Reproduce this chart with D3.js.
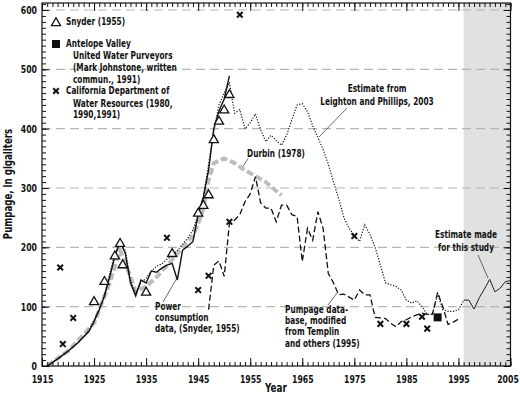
<!DOCTYPE html>
<html>
<head>
<meta charset="utf-8">
<script src="https://cdn.jsdelivr.net/npm/d3@7/dist/d3.min.js"></script>
<style>
  html, body { margin: 0; padding: 0; background: #fff; }
  svg { display: block; }
  text { font-family: "DejaVu Sans Condensed", "Liberation Sans Narrow", sans-serif; font-weight: bold; fill: #111; }
</style>
</head>
<body>
<svg id="chart" width="520" height="396"></svg>
<script>
// ---------- data (year, gigaliters) ----------
const snyderTriangles = [[1925,108],[1927,142],[1929,185],[1930,206],[1930.5,170],[1935,124],[1940,189],
  [1945,257],[1946,270],[1947,288],[1948,381],[1949,412],[1950,431],[1951,457]];
const dwrCrosses = [[1918.5,166],[1919,37],[1921,81],[1939,216],[1945,128],[1947,152],[1951,243],[1953,592],
  [1975,219],[1980,71],[1985,71],[1988,83],[1989,63]];
const avSquares = [[1991,82]];
const powerConsumption = [[1916,0],[1918,12],[1920,25],[1922,40],[1924,58],[1925,75],[1926,95],[1927,118],
  [1928,150],[1929,185],[1930,210],[1931,190],[1932,140],[1933,118],[1934,145],[1935,140],[1936,160],[1937,158],
  [1938,165],[1939,170],[1940,173],[1941,145],[1942,195],[1943,202],[1944,210],[1945,255],[1946,285],[1947,330],
  [1948,400],[1949,430],[1950,450],[1951,489]];
const leightonPhillips = [[1916,0],[1918,12],[1920,25],[1922,40],[1924,60],[1926,95],[1927,120],[1928,155],
  [1929,190],[1930,205],[1931,195],[1932,145],[1933,122],[1934,140],[1935,148],[1936,160],[1937,168],[1938,172],
  [1939,180],[1940,186],[1941,195],[1942,205],[1943,215],[1944,230],[1945,255],[1946,285],[1947,340],[1948,395],
  [1949,440],[1950,460],[1951,478],[1952,426],[1953,432],[1954,400],[1955,410],[1956,425],[1957,398],[1958,378],
  [1959,389],[1960,380],[1961,372],[1962,389],[1963,415],[1964,440],[1965,442],[1966,429],[1967,405],[1968,385],
  [1969,365],[1970,340],[1971,310],[1972,282],[1973,250],[1974,232],[1975,220],[1976,210],[1977,238],[1978,222],
  [1979,200],[1980,170],[1981,140],[1982,137],[1983,134],[1984,128],[1985,111],[1986,106],[1987,110],[1988,100],
  [1989,87],[1990,87],[1991,122],[1992,95],[1993,92],[1994,92],[1995,95],[1996,110]];
const pumpageDatabase = [[1947,95],[1948,170],[1949,177],[1950,151],[1951,240],[1952,246],[1953,255],[1954,277],
  [1955,290],[1956,319],[1957,275],[1958,266],[1959,266],[1960,243],[1961,271],[1962,271],[1963,255],[1964,252],
  [1965,176],[1966,232],[1967,212],[1968,260],[1969,232],[1970,156],[1971,140],[1972,120],[1973,121],[1974,116],
  [1975,111],[1976,128],[1977,120],[1978,120],[1979,82],[1980,81],[1981,80],[1982,72],[1983,66],[1984,75],
  [1985,78],[1986,83],[1987,86],[1988,89],[1989,87],[1990,87],[1991,124],[1992,100],[1993,70],[1994,74],[1995,79]];
const durbin = [[1916,0],[1920,25],[1925,72],[1928,140],[1930,195],[1932,150],[1933,125],[1935,134],[1937,150],
  [1940,179],[1942,200],[1944,220],[1945,240],[1946,265],[1947,313],[1948,342],[1950,350],[1952,342],[1954,330],
  [1956,320],[1958,310],[1960,295],[1961,288]];
const thisStudy = [[1996,111],[1997,111],[1998,96],[1999,115],[2000,130],[2001,146],[2002,125],[2003,131],
  [2004,142],[2005,144]];
const shadedPeriod = [1996, 2005];
const xLabels = [1915,1925,1935,1945,1955,1965,1975,1985,1995,2005];
const yLabels = [0,100,200,300,400,500,600];

// ---------- layout ----------
const svg = d3.select("#chart");
const L = 42, R = 510.5, T = 3, B = 366;
const SX = 0.82; // horizontal condensing of the text
const x = d3.scaleLinear().domain([1915, 2005]).range([L, R]);
const y = d3.scaleLinear().domain([0, 600]).range([B, 10]);
const yTop = y.invert(T);

// shaded region
svg.append("rect")
  .attr("x", x(shadedPeriod[0])).attr("y", T)
  .attr("width", x(shadedPeriod[1]) - x(shadedPeriod[0])).attr("height", B - T)
  .attr("fill", "#e1e1e1");

// gridlines
svg.append("g").selectAll("line").data(yLabels.slice(1)).join("line")
  .attr("x1", L).attr("x2", R).attr("y1", d => y(d)).attr("y2", d => y(d))
  .attr("stroke", "#b5b5b5").attr("stroke-width", 1.1).attr("stroke-dasharray", "9,5");

const line = d3.line().x(d => x(d[0])).y(d => y(d[1]));

// Durbin (gray thick dashed)
svg.append("path").datum(durbin).attr("d", line)
  .attr("fill", "none").attr("stroke", "#bdbdbd").attr("stroke-width", 4)
  .attr("stroke-dasharray", "7,3");

// Leighton & Phillips (dotted)
svg.append("path").datum(leightonPhillips).attr("d", line)
  .attr("fill", "none").attr("stroke", "#111").attr("stroke-width", 1.2)
  .attr("stroke-dasharray", "1.2,1.6");

// Pumpage database (dashed)
svg.append("path").datum(pumpageDatabase).attr("d", line)
  .attr("fill", "none").attr("stroke", "#111").attr("stroke-width", 1.3)
  .attr("stroke-dasharray", "6,3");

// Power consumption (solid)
svg.append("path").datum(powerConsumption).attr("d", line)
  .attr("fill", "none").attr("stroke", "#111").attr("stroke-width", 1.4);

// Estimate made for this study
svg.append("path").datum(thisStudy).attr("d", line)
  .attr("fill", "none").attr("stroke", "#222").attr("stroke-width", 1);

// markers
const tri = d3.symbol().type(d3.symbolTriangle).size(36);
svg.append("g").selectAll("path").data(snyderTriangles).join("path")
  .attr("d", tri).attr("transform", d => `translate(${x(d[0])},${y(d[1])})`)
  .attr("fill", "#fff").attr("stroke", "#111").attr("stroke-width", 1.3);

const cross = "M-2.8,-2.8L2.8,2.8M-2.8,2.8L2.8,-2.8";
svg.append("g").selectAll("path").data(dwrCrosses).join("path")
  .attr("d", cross).attr("transform", d => `translate(${x(d[0])},${y(d[1])})`)
  .attr("stroke", "#111").attr("stroke-width", 2).attr("fill", "none");

svg.append("g").selectAll("rect").data(avSquares).join("rect")
  .attr("x", d => x(d[0]) - 4).attr("y", d => y(d[1]) - 4).attr("width", 8).attr("height", 8)
  .attr("fill", "#111");

// ---------- axes ----------
function styleAxis(g) {
  g.select(".domain").remove();
  g.selectAll("line").attr("stroke", "#111").attr("stroke-width", 1);
  g.selectAll("text").attr("font-size", "10.5px").attr("fill", "#111")
    .style("font-family", '"DejaVu Sans Condensed","Liberation Sans Narrow",sans-serif')
    .style("font-weight", "bold")
    .each(function (d) {
      const t = d3.select(this);
      let tx = +t.attr("x") || 0;
      const ty = +t.attr("y") || 0;
      if (d === 2005) tx -= 3;   // keep the last label inside the picture
      t.attr("x", 0).attr("y", 0).attr("transform", `translate(${tx},${ty}) scale(${SX},1)`);
    });
}
const years = d3.range(1915, 2006);
const minorY = d3.range(0, yTop, 10);
// bottom
svg.append("g").attr("transform", `translate(0,${B})`)
  .call(d3.axisBottom(x).tickValues(years).tickSize(-4).tickFormat("")).call(styleAxis);
svg.append("g").attr("transform", `translate(0,${B})`)
  .call(d3.axisBottom(x).tickValues(xLabels).tickSize(-8).tickPadding(10).tickFormat(d3.format("d"))).call(styleAxis);
// top
svg.append("g").attr("transform", `translate(0,${T})`)
  .call(d3.axisTop(x).tickValues(years).tickSize(-4).tickFormat("")).call(styleAxis);
svg.append("g").attr("transform", `translate(0,${T})`)
  .call(d3.axisTop(x).tickValues(xLabels).tickSize(-8).tickFormat("")).call(styleAxis);
// left
svg.append("g").attr("transform", `translate(${L},0)`)
  .call(d3.axisLeft(y).tickValues(minorY).tickSize(-4).tickFormat("")).call(styleAxis);
svg.append("g").attr("transform", `translate(${L},0)`)
  .call(d3.axisLeft(y).tickValues(yLabels).tickSize(-7).tickPadding(5).tickFormat(d3.format("d"))).call(styleAxis);
// right
svg.append("g").attr("transform", `translate(${R},0)`)
  .call(d3.axisRight(y).tickValues(minorY).tickSize(-4).tickFormat("")).call(styleAxis);
svg.append("g").attr("transform", `translate(${R},0)`)
  .call(d3.axisRight(y).tickValues(yLabels).tickSize(-7).tickFormat("")).call(styleAxis);

// frame
svg.append("rect").attr("x", L).attr("y", T).attr("width", R - L).attr("height", B - T)
  .attr("fill", "none").attr("stroke", "#111").attr("stroke-width", 1.2);

// text helper (condensed)
function label(g, t, xx, yy, anchor, size) {
  return g.append("text").attr("transform", `translate(${xx},${yy}) scale(${SX},1)`)
    .attr("text-anchor", anchor).attr("dominant-baseline", "central")
    .attr("font-size", size + "px").text(t);
}

// axis titles
svg.append("text").attr("transform", `translate(8,184) rotate(-90) scale(0.8,1)`)
  .attr("text-anchor", "middle").attr("dominant-baseline", "central")
  .attr("font-size", "12px").text("Pumpage, in gigaliters");
label(svg, "Year", 276, 388, "middle", 12);

// ---------- legend ----------
const lg = svg.append("g");
lg.append("path").attr("d", tri).attr("transform", "translate(56,23)")
  .attr("fill", "#fff").attr("stroke", "#111").attr("stroke-width", 1.3);
lg.append("rect").attr("x", 52).attr("y", 40).attr("width", 8).attr("height", 8).attr("fill", "#111");
lg.append("path").attr("d", cross).attr("transform", "translate(56,91)")
  .attr("stroke", "#111").attr("stroke-width", 2);
const legendText = [
  ["Snyder (1955)", 66, 22],
  ["Antelope Valley", 66, 44],
  ["United Water Purveyors", 73, 56],
  ["(Mark Johnstone, written", 73, 68],
  ["commun., 1991)", 73, 79.5],
  ["California Department of", 66, 91],
  ["Water Resources (1980,", 73, 103.5],
  ["1990,1991)", 73, 115]
];
legendText.forEach(d => label(lg, d[0], d[1], d[2], "start", 10));

// ---------- annotations ----------
const ann = svg.append("g");
function block(lines, xx, yy, anchor, lh) {
  lines.forEach((t, i) => label(ann, t, xx, yy + i * lh, anchor, 10));
}
block(["Estimate from", "Leighton and Phillips, 2003"], 377, 89, "middle", 12.5);
block(["Durbin (1978)"], 276, 154, "middle", 12);
block(["Power", "consumption", "data, (Snyder, 1955)"], 155, 306.5, "start", 11);
block(["Pumpage data-", "base, modified", "from Templin", "and others (1995)"], 285, 309.5, "start", 11.3);
block(["Estimate made", "for this study"], 466, 235, "middle", 13);

const pointers = [[347,108,319,137],[248,158.5,243,166.5],[163,302,177,278],[328,305,337,293],[478,255,488,278]];
ann.selectAll("line").data(pointers).join("line")
  .attr("x1", d => d[0]).attr("y1", d => d[1]).attr("x2", d => d[2]).attr("y2", d => d[3])
  .attr("stroke", "#444").attr("stroke-width", 0.8);
</script>
</body>
</html>
